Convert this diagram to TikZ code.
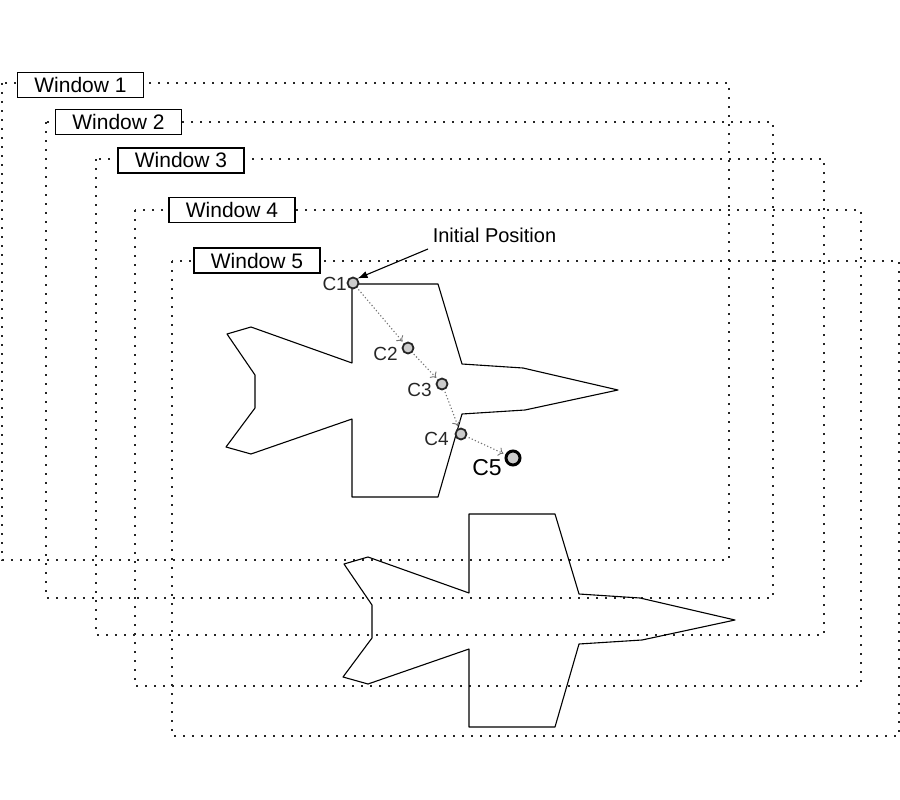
\documentclass[tikz,border=0pt]{standalone}
\usepackage{fontspec}
\setmainfont{Liberation Sans}
\usetikzlibrary{arrows.meta}
\begin{document}
\begin{tikzpicture}[x=1pt,y=-1pt,
  winrect/.style={draw=black!85,line width=2.2pt,dash pattern=on 2.2pt off 6.8pt},
  winlabel/.style={draw=black,fill=white,line width=1.3pt,minimum width=126pt,minimum height=25pt,inner sep=0pt,font=\fontsize{21}{24}\selectfont},
  plane/.style={draw=black,line width=1.1pt,line join=round},
  cpt/.style={circle,draw=black!85,fill=black!20,line width=1.8pt,minimum size=11pt,inner sep=0pt},
  cbig/.style={circle,draw=black,fill=black!20,line width=3pt,minimum size=14pt,inner sep=0pt},
  clab/.style={inner sep=0pt,font=\fontsize{19}{22}\selectfont,text=black!85},
  path/.style={draw=black!55,line width=1.1pt,dash pattern=on 1.2pt off 2.2pt,-{To[length=5pt,width=9pt,line width=0.9pt]},shorten >=2pt,shorten <=2pt}
]
\useasboundingbox (0,0) rectangle (900,800);
% windows
\draw[winrect] (2,83) rectangle (729,560);
\draw[winrect] (46,122) rectangle (773,598);
\draw[winrect] (96,159) rectangle (824,635);
\draw[winrect] (135,210) rectangle (861,686);
\draw[winrect] (172,261) rectangle (899,736);
\node[winlabel] (w1) at (80.5,85) {Window 1};
\node[winlabel] (w2) at (118.5,122) {Window 2};
\node[winlabel,line width=2pt] (w3) at (181,160) {Window 3};
\node[winlabel] (w4) at (232,210) {Window 4};
\node[winlabel] (w5) at (257,260.5) {Window 5};
% planes
\foreach \dx/\dy in {0/0,117/230}{
  \draw[plane,shift={(\dx,\dy)}] (352,284) -- (438,284) -- (462,364) -- (523,368) -- (618,390) -- (525,410) -- (462,414) -- (438,497) -- (352,497) -- (352,419) -- (251,454) -- (226,447) -- (255,408) -- (255,375) -- (227,334) -- (251,327) -- (352,363) -- cycle;
}
% positions
\node[cpt] (c1) at (353,283) {};
\node[cpt] (c2) at (408,348) {};
\node[cpt] (c3) at (442,384) {};
\node[cpt] (c4) at (461,434) {};
\node[cbig] (c5) at (513,458) {};
\node[clab,anchor=east] (l1) at (347,284) {C1};
\node[clab] (l2) at (385.5,354) {C2};
\node[clab] (l3) at (419.5,390) {C3};
\node[clab] (l4) at (436.5,439) {C4};
\node[clab,font=\fontsize{23}{26}\selectfont,text=black] (l5) at (487,468) {C5};
\draw[path] (c1) -- (c2);
\draw[path] (c2) -- (c3);
\draw[path] (c3) -- (c4);
\draw[path] (c4) -- (c5);
% initial position
\node[inner sep=0pt,font=\fontsize{20}{23}\selectfont] (ip) at (494.5,235) {Initial Position};
\coordinate (ipstart) at (428,249);
\draw[line width=1.1pt,-{Latex[length=10pt,width=7pt]}] (ipstart) -- (c1.north east);
\end{tikzpicture}
\end{document}
